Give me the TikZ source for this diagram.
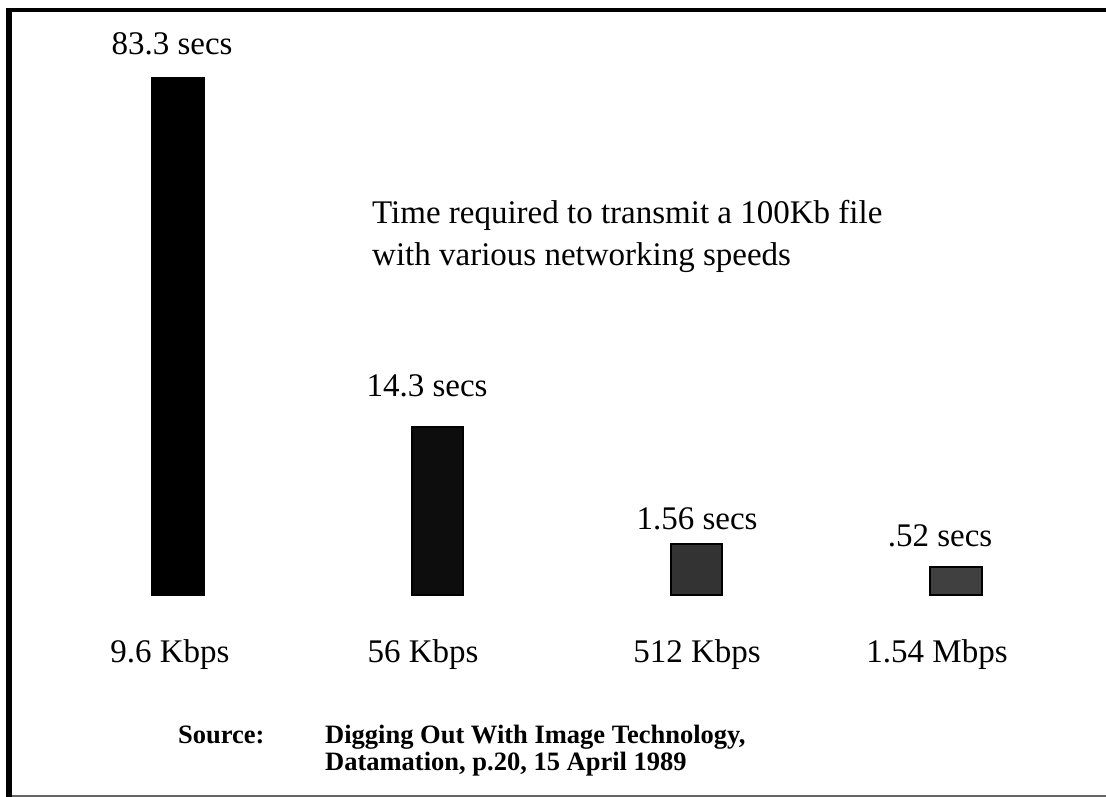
\documentclass[tikz,border=0pt]{standalone}
\usepackage{fontspec}
\setmainfont{Liberation Serif}
\begin{document}
\begin{tikzpicture}[x=1pt,y=-1pt,
  lbl/.style={font=\fontsize{33}{40}\selectfont, anchor=base, inner sep=0pt},
  src/.style={font=\fontsize{26.5}{30}\selectfont\bfseries, anchor=base west, inner sep=0pt},
  bar/.style={draw=black, line width=1.2pt}]
\useasboundingbox (0,0) rectangle (1106,797);
% frame: heavy top and left rules, thin grey bottom rule
\fill[black] (6,8) rectangle (1106,12);
\fill[black] (6,8) rectangle (12,797);
\draw[black!60, line width=1.5pt] (12,796) -- (1106,796);
% bars
\filldraw[bar, fill=black] (152,78) rectangle (204,595);
\filldraw[bar, fill=black!95] (412,427) rectangle (463,595);
\filldraw[bar, fill=black!80] (671,544) rectangle (722,595);
\filldraw[bar, fill=black!75] (930,567) rectangle (982,595);
% values
\node[lbl] (v1) at (172,55) {83.3 secs};
\node[lbl] (v2) at (427,396) {14.3 secs};
\node[lbl] (v3) at (697,529) {1.56 secs};
\node[lbl] (v4) at (940,546) {.52 secs};
% caption
\node[lbl, anchor=base west] (t1) at (372,223) {Time required to transmit a 100Kb file};
\node[lbl, anchor=base west] (t2) at (372,265) {with various networking speeds};
% speeds
\node[lbl] (s1) at (170,662) {9.6 Kbps};
\node[lbl] (s2) at (423,662) {56 Kbps};
\node[lbl] (s3) at (697,662) {512 Kbps};
\node[lbl] (s4) at (937,662) {1.54 Mbps};
% source
\node[src] (srcl) at (178,743) {Source:};
\node[src] (r1) at (325,743) {Digging Out With Image Technology,};
\node[src] (r2) at (325,770) {Datamation, p.20, 15 April 1989};
\end{tikzpicture}
\end{document}
